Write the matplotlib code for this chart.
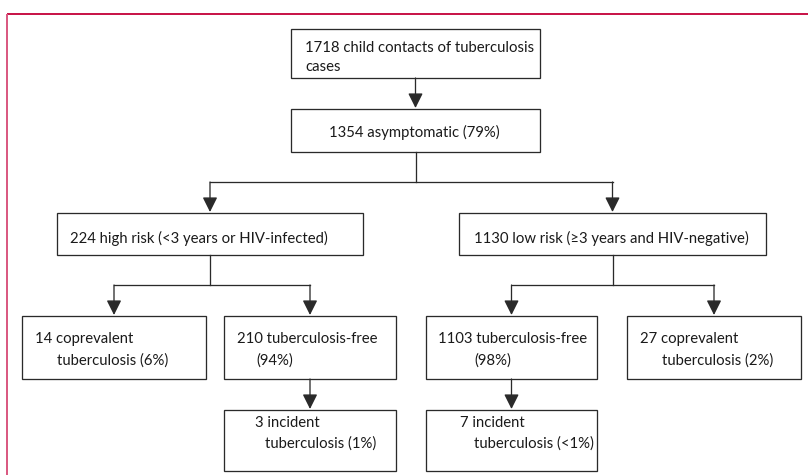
import matplotlib.pyplot as plt
from matplotlib.patches import Rectangle

# texts of the flowchart (one list of lines per box)
box_lines = [
    ["1718 child contacts of tuberculosis", "cases"],
    ["1354 asymptomatic (79%)"],
    ["224 high risk (<3 years or HIV-infected)"],
    ["1130 low risk (\u22653 years and HIV-negative)"],
    ["14 coprevalent", "tuberculosis (6%)"],
    ["210 tuberculosis-free", "(94%)"],
    ["3 incident", "tuberculosis (1%)"],
    ["1103 tuberculosis-free", "(98%)"],
    ["27 coprevalent", "tuberculosis (2%)"],
    ["7 incident", "tuberculosis (<1%)"],
]
# parent of each box (flow), -1 = root
parents = [-1, 0, 1, 1, 2, 2, 5, 3, 3, 7]

# layout in pixel units: x0, y0, x1, y1
boxes = [
    (291, 29, 540, 78),
    (291, 109, 540, 152),
    (57, 213, 363, 255),
    (459, 213, 766, 255),
    (22, 316, 206, 379),
    (224, 316, 396, 379),
    (224, 410, 396, 471),
    (426, 316, 597, 379),
    (627, 316, 801, 379),
    (426, 410, 597, 471),
]
# baseline position of every text line (x left, y baseline)
line_pos = [
    [(305, 52), (305, 71)],
    [(414, 137)],
    [(70, 243)],
    [(474, 243)],
    [(35, 343), (57, 365)],
    [(237, 343), (256, 365)],
    [(255, 427), (265, 448)],
    [(438, 343), (474, 365)],
    [(640, 343), (662, 365)],
    [(460, 427), (474, 448)],
]
split_y = {1: 182, 2: 285, 3: 285}

W, H = 808, 475
fig = plt.figure(figsize=(W / 100, H / 100), dpi=100)
ax = fig.add_axes([0, 0, 1, 1])
ax.set_xlim(0, W)
ax.set_ylim(H, 0)
ax.axis('off')

px = 72 / 100  # one pixel in points
line_col = '#2a2a2a'
fam = ['Lato', 'DejaVu Sans']

# frame (top and left only)
ax.plot([6.5, W], [14, 14], color='#C8164A', lw=2 * px, solid_capstyle='butt')
ax.plot([6.5, 6.5], [14, H], color='#DA5A82', lw=2 * px, solid_capstyle='butt')

for i, (x0, y0, x1, y1) in enumerate(boxes):
    ax.add_patch(Rectangle((x0, y0), x1 - x0, y1 - y0, fill=False,
                           ec=line_col, lw=1.3 * px))
    fs = 10.7 if i < 2 else 10.7
    for txt, (tx, ty) in zip(box_lines[i], line_pos[i]):
        ax.text(tx, ty, txt, ha='center' if i == 1 else 'left', va='baseline',
                fontsize=fs, family=fam, color='#1a1a1a')


def arrow(x, ya, yb):
    ax.annotate('', xy=(x, yb), xytext=(x, ya),
                arrowprops=dict(arrowstyle='-|>,head_length=0.6,head_width=0.3',
                                mutation_scale=15, lw=1.3 * px, color=line_col,
                                shrinkA=0, shrinkB=0))


for i, p in enumerate(parents):
    if p < 0:
        continue
    px0, py0, px1, py1 = boxes[p]
    cx = (px0 + px1) / 2
    kids = [k for k, q in enumerate(parents) if q == p]
    bx0, by0, bx1, by1 = boxes[i]
    kx = (bx0 + bx1) / 2
    if len(kids) == 1:
        arrow(cx, py1, by0 - 1)
    else:
        sy = split_y[p]
        if kids[0] == i:
            ax.plot([cx, cx], [py1, sy], color=line_col, lw=1.3 * px)
            ends = [(boxes[k][0] + boxes[k][2]) / 2 for k in kids]
            ax.plot([min(ends), max(ends)], [sy, sy], color=line_col, lw=1.3 * px)
        arrow(kx, sy, by0 - 1)

fig.savefig('out.png', dpi=100)
